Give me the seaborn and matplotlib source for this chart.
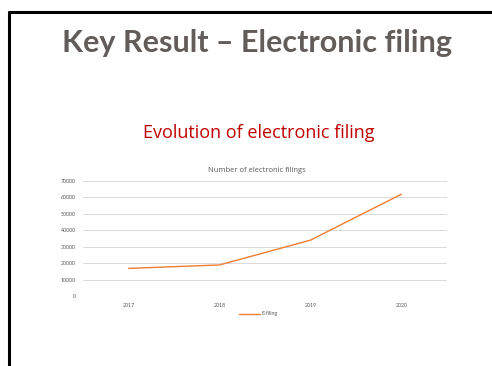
import matplotlib
matplotlib.use("Agg")
import matplotlib.pyplot as plt
import seaborn as sns
import pandas as pd
from matplotlib.lines import Line2D

years = ["2017", "2018", "2019", "2020"]
efiling = [16800, 18900, 34000, 62000]
yticks = [0, 10000, 20000, 30000, 40000, 50000, 60000, 70000]

sns.set_theme(style="white")
plt.rcParams['font.family'] = ['Lato', 'DejaVu Sans']

df = pd.DataFrame({"year": years, "E-filing": efiling})

fig = plt.figure(figsize=(4.92, 3.66), dpi=100)
fig.patch.set_facecolor("white")

# slide border
fig.add_artist(Line2D([9/492, 9/492], [0, 1 - 12/366], color="black", lw=2.2,
                      transform=fig.transFigure))
fig.add_artist(Line2D([9/492, 1], [1 - 12/366, 1 - 12/366], color="black", lw=2.2,
                      transform=fig.transFigure))

fig.text(257/492, 1 - 43/366, "Key Result \u2013 Electronic filing", ha="center", va="center",
         fontsize=22, fontweight="bold", color="#625c5a", family=["Lato", "DejaVu Sans"])
fig.text(259/492, 1 - 133/366, "Evolution of electronic filing", ha="center", va="center",
         fontsize=13, color="#c00000", family=["Open Sans", "DejaVu Sans"])
fig.text(257/492, 1 - 170/366, "Number of electronic filings", ha="center", va="center",
         fontsize=5.5, color="#595959", family=["Open Sans", "DejaVu Sans"])

ax = fig.add_axes([83/492, 1 - 296/366, 364/492, 115/366])
sns.lineplot(data=df, x="year", y="E-filing", ax=ax, color="#ED7D31", lw=1.0,
             label="E-filing", legend=False)
ax.set_xlim(-0.5, 3.5)
ax.set_ylim(0, 70000)
ax.set_yticks(yticks)
ax.set_yticklabels([str(v) for v in yticks])
ax.grid(axis="y", color="#d9d9d9", lw=0.7)
ax.set_axisbelow(True)
for s in ax.spines.values():
    s.set_visible(False)
ax.tick_params(axis="both", length=0, labelsize=3.8, labelcolor="#595959", pad=5)
ax.set_xlabel("")
ax.set_ylabel("")

handles = [Line2D([], [], color="#ED7D31", lw=1.0)]
fig.legend(handles, ["E-filing"], loc="center", bbox_to_anchor=(258/492, 1 - 314/366),
           frameon=False, fontsize=3.8, labelcolor="#595959", handlelength=4,
           handletextpad=0.3)

fig.savefig("out.png", dpi=100, facecolor="white")
